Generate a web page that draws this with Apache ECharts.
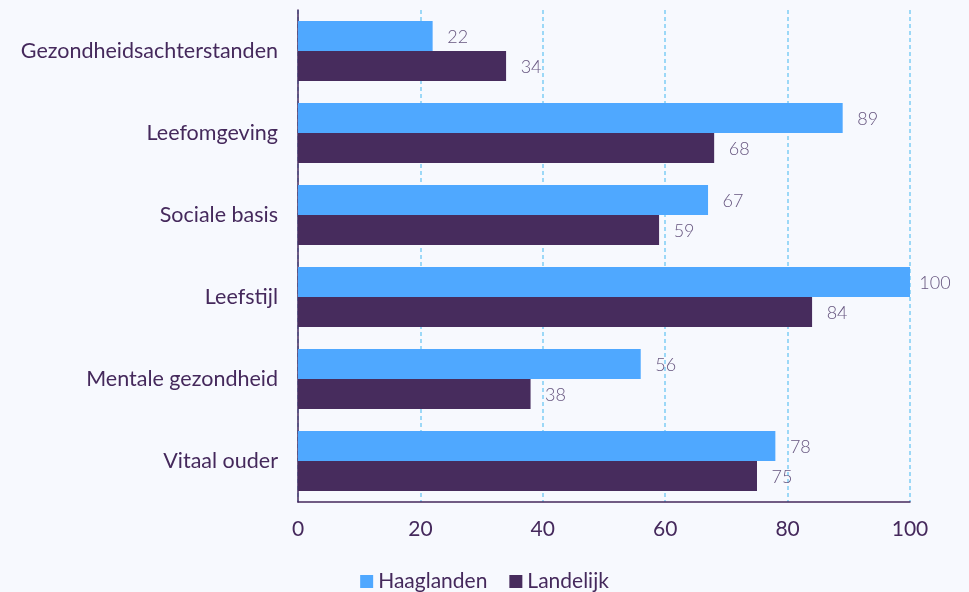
<!DOCTYPE html>
<html>
<head>
<meta charset="utf-8">
<script src="https://cdn.jsdelivr.net/npm/echarts@6/dist/echarts.min.js"></script>
<style>
html,body{margin:0;padding:0;background:#f7f9fe;}
#chart{width:969px;height:592px;}
</style>
</head>
<body>
<div id="chart"></div>
<script>
const categories = ['Gezondheidsachterstanden','Leefomgeving','Sociale basis','Leefstijl','Mentale gezondheid','Vitaal ouder'];
const haaglanden = [22, 89, 67, 100, 56, 78];
const landelijk = [34, 68, 59, 84, 38, 75];
const seriesNames = ['Haaglanden','Landelijk'];

const chart = echarts.init(document.getElementById('chart'));
const labelStyle = {show:true, position:'right', distance:25, align:'center', offset:[0,1.5], color:'#66557f', fontFamily:'Lato', fontWeight:300, fontSize:18};
chart.setOption({
  backgroundColor:'#f7f9fe',
  animation:false,
  textStyle:{fontFamily:'Lato'},
  grid:{left:298, right:59, top:10, bottom:90},
  legend:{
    top:566, left:'center', itemWidth:13, itemHeight:13, itemGap:22,
    icon:'rect',
    textStyle:{color:'#45295c', fontSize:21, fontFamily:'Lato'},
    data:seriesNames
  },
  xAxis:{
    type:'value', min:0, max:100, interval:20,
    axisLine:{show:true, lineStyle:{color:'#45295c', width:1.5}},
    axisTick:{show:false},
    axisLabel:{color:'#45295c', fontSize:21, margin:17, fontFamily:'Lato'},
    splitLine:{show:true, lineStyle:{color:'#7fcdf5', type:[4,3], width:1.5}}
  },
  yAxis:{
    type:'category', data:categories, inverse:true,
    axisLine:{show:true, lineStyle:{color:'#45295c', width:1.5}},
    axisTick:{show:false},
    axisLabel:{color:'#45295c', fontSize:21.5, margin:20, fontFamily:'Lato'}
  },
  series:[
    {name:seriesNames[0], type:'bar', data:haaglanden, barWidth:30, barGap:'0%',
     itemStyle:{color:'#4fa8ff'}, label:labelStyle},
    {name:seriesNames[1], type:'bar', data:landelijk, barWidth:30, barGap:'0%',
     itemStyle:{color:'#472c5d'}, label:labelStyle}
  ]
});
</script>
</body>
</html>
